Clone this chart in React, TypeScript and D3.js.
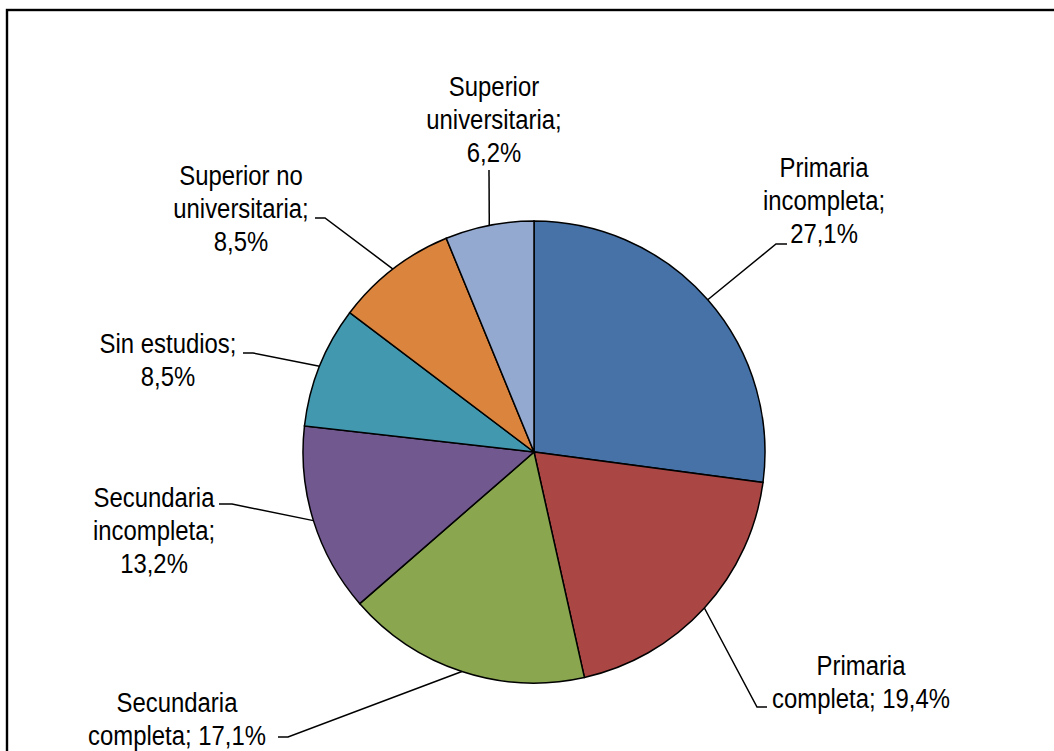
import React from "react";
import * as d3 from "d3";

const categories = [
  "Primaria incompleta",
  "Primaria completa",
  "Secundaria completa",
  "Secundaria incompleta",
  "Sin estudios",
  "Superior no universitaria",
  "Superior universitaria",
];
const values = [27.1, 19.4, 17.1, 13.2, 8.5, 8.5, 6.2];
const colors = ["#4672A8", "#AA4745", "#8AA64F", "#71588F", "#4298AF", "#DB843D", "#94A9CF"];

// label text lines per slice
const labelLines = [
  ["Primaria", "incompleta;", "27,1%"],
  ["Primaria", "completa; 19,4%"],
  ["Secundaria", "completa; 17,1%"],
  ["Secundaria", "incompleta;", "13,2%"],
  ["Sin estudios;", "8,5%"],
  ["Superior no", "universitaria;", "8,5%"],
  ["Superior", "universitaria;", "6,2%"],
];

// layout: label center x, first baseline y, leader elbow point, leader end point
const labelLayout = [
  { x: 824, y: 177, elbow: [776, 244], end: [787, 244] },
  { x: 861, y: 675, elbow: [757, 707], end: [767, 707] },
  { x: 177, y: 712, elbow: [288, 737], end: [278, 737] },
  { x: 154, y: 507, elbow: [232, 504], end: [219, 504] },
  { x: 168, y: 353, elbow: [253, 353], end: [243, 353] },
  { x: 241, y: 185, elbow: [325, 218], end: [315, 218] },
  { x: 494, y: 96, elbow: [489, 170], end: [489, 170] },
];

const W = 1054;
const H = 751;
const cx = 534;
const cy = 452;
const R = 231;
const lineH = 33;
const squeeze = 0.885;

export default function App() {
  const pie = d3.pie<number>().sort(null).value((d) => d);
  const arcs = pie(values);
  const arcGen = d3.arc<d3.PieArcDatum<number>>().innerRadius(0).outerRadius(R);

  return (
    <svg
      width={W}
      height={H}
      style={{ position: "absolute", left: 0, top: 0, background: "#fff" }}
    >
      <rect x={7} y={10} width={1200} height={900} fill="#fff" stroke="#000" strokeWidth={2.4} />
      <g transform={`translate(${cx},${cy})`}>
        {arcs.map((a, i) => (
          <path key={i} d={arcGen(a) || ""} fill={colors[i]} stroke="#000" strokeWidth={1.5} />
        ))}
      </g>
      {arcs.map((a, i) => {
        const mid = (a.startAngle + a.endAngle) / 2;
        const px = cx + R * Math.sin(mid);
        const py = cy - R * Math.cos(mid);
        const L = labelLayout[i];
        return (
          <polyline
            key={"l" + i}
            points={`${px},${py} ${L.elbow[0]},${L.elbow[1]} ${L.end[0]},${L.end[1]}`}
            fill="none"
            stroke="#000"
            strokeWidth={1.5}
          />
        );
      })}
      {labelLines.map((lines, i) => {
        const L = labelLayout[i];
        return (
          <g key={"t" + i} transform={`translate(${L.x},0) scale(${squeeze},1)`}>
            <text
              x={0}
              y={L.y}
              textAnchor="middle"
              fontFamily="'Liberation Sans Narrow', 'Arial Narrow', 'Liberation Sans', Arial, sans-serif"
              fontSize={27}
              fill="#000"
            >
              {lines.map((ln, j) => (
                <tspan key={j} x={0} y={L.y + j * lineH}>
                  {ln}
                </tspan>
              ))}
            </text>
          </g>
        );
      })}
    </svg>
  );
}
